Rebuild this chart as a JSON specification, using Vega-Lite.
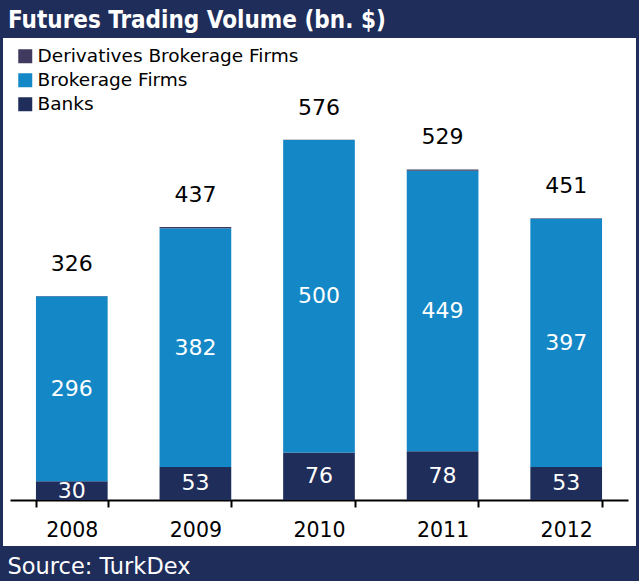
{
  "$schema": "https://vega.github.io/schema/vega-lite/v6.json",
  "width": 633,
  "height": 508,
  "autosize": {"type": "none"},
  "padding": {"left": 3, "right": 3, "top": 38, "bottom": 35},
  "background": "#1F2D5A",
  "config": {"view": {"fill": "white", "stroke": null}, "font": "DejaVu Sans"},
  "title": {
    "text": "Futures Trading Volume (bn. $)",
    "anchor": "start",
    "frame": "group",
    "orient": "top",
    "offset": 11,
    "baseline": "alphabetic",
    "dx": 5,
    "dy": 25,
    "fontSize": 24,
    "fontWeight": "bold",
    "color": "white",
    "font": "DejaVu Sans Condensed"
  },
  "datasets": {
    "segments": [
      {"year": "2008", "category": "Banks", "value": 30},
      {"year": "2008", "category": "Brokerage Firms", "value": 296},
      {"year": "2008", "category": "Derivatives Brokerage Firms", "value": 0.5},
      {"year": "2009", "category": "Banks", "value": 53},
      {"year": "2009", "category": "Brokerage Firms", "value": 382},
      {"year": "2009", "category": "Derivatives Brokerage Firms", "value": 2},
      {"year": "2010", "category": "Banks", "value": 76},
      {"year": "2010", "category": "Brokerage Firms", "value": 500},
      {"year": "2010", "category": "Derivatives Brokerage Firms", "value": 0.5},
      {"year": "2011", "category": "Banks", "value": 78},
      {"year": "2011", "category": "Brokerage Firms", "value": 449},
      {"year": "2011", "category": "Derivatives Brokerage Firms", "value": 2},
      {"year": "2012", "category": "Banks", "value": 53},
      {"year": "2012", "category": "Brokerage Firms", "value": 397},
      {"year": "2012", "category": "Derivatives Brokerage Firms", "value": 1}
    ],
    "totals": [
      {"year": "2008", "total": 326},
      {"year": "2009", "total": 437},
      {"year": "2010", "total": 576},
      {"year": "2011", "total": 529},
      {"year": "2012", "total": 451}
    ]
  },
  "layer": [
    {
      "data": {"name": "segments"},
      "mark": {"type": "bar"},
      "encoding": {
        "x": {
          "field": "year",
          "type": "ordinal",
          "scale": {"range": [7, 625], "paddingInner": 0.42, "paddingOuter": 0.21},
          "axis": {
            "orient": "bottom",
            "offset": -46,
            "title": "Source: TurkDex",
            "titleColor": "white",
            "titleFontSize": 22.5,
            "titleFontWeight": "normal",
            "titleFont": "DejaVu Sans",
            "titleX": 4,
            "titleY": 66,
            "titleAlign": "left",
            "titleAnchor": "start",
            "titleBaseline": "middle",
            "labelFontSize": 20.5,
            "labelColor": "black",
            "labelAngle": 0,
            "labelPadding": 13,
            "domainColor": "black",
            "domainWidth": 2,
            "tickColor": "black",
            "tickWidth": 2,
            "tickSize": 7,
            "tickBand": "extent",
            "grid": false
          }
        },
        "y": {
          "field": "value",
          "type": "quantitative",
          "stack": "zero",
          "scale": {"domain": [-73.6, 739.2], "nice": false, "zero": false},
          "axis": null
        },
        "color": {
          "field": "category",
          "type": "nominal",
          "scale": {
            "domain": ["Derivatives Brokerage Firms", "Brokerage Firms", "Banks"],
            "range": ["#3F3A5E", "#1487C6", "#1F2D5A"]
          },
          "legend": {
            "orient": "none",
            "legendX": 13,
            "legendY": 9,
            "padding": 0,
            "title": null,
            "symbolType": "square",
            "symbolSize": 196,
            "symbolStrokeWidth": 0,
            "labelFontSize": 18.5,
            "labelColor": "black",
            "labelOffset": 3,
            "labelLimit": 400,
            "rowPadding": 5,
            "labelFont": "DejaVu Sans"
          }
        },
        "order": {"field": "category", "type": "nominal", "sort": "ascending"}
      }
    },
    {
      "data": {"name": "segments"},
      "transform": [
        {"filter": "datum.category != 'Derivatives Brokerage Firms'"},
        {"stack": "value", "groupby": ["year"], "sort": [{"field": "category", "order": "ascending"}], "as": ["v0", "v1"]},
        {"fold": ["v0", "v1"], "as": ["end", "pos"]},
        {"aggregate": [{"op": "mean", "field": "pos", "as": "mid"}], "groupby": ["year", "category", "value"]}
      ],
      "mark": {"type": "text", "color": "white", "fontSize": 22, "baseline": "middle"},
      "encoding": {
        "x": {"field": "year", "type": "ordinal"},
        "y": {"field": "mid", "type": "quantitative", "scale": {"domain": [-73.6, 739.2], "nice": false, "zero": false}},
        "text": {"field": "value", "type": "quantitative"}
      }
    },
    {
      "data": {"name": "totals"},
      "mark": {"type": "text", "color": "black", "fontSize": 22, "baseline": "middle", "dy": -32},
      "encoding": {
        "x": {"field": "year", "type": "ordinal"},
        "y": {"field": "total", "type": "quantitative", "scale": {"domain": [-73.6, 739.2], "nice": false, "zero": false}},
        "text": {"field": "total", "type": "quantitative"}
      }
    }
  ]
}
